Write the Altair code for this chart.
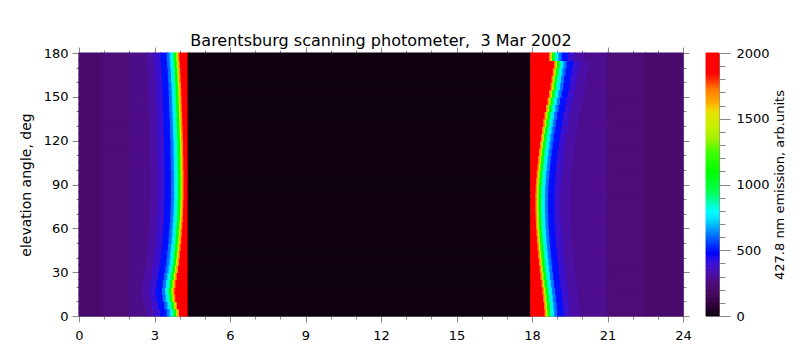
import altair as alt
import pandas as pd

# ---------------- data ----------------
# elevation rows (lower edge, deg); each row is 5 deg tall
row_lo = list(range(0, 180, 5))
row_step = 5

# hour where the dawn red (saturated) zone begins, per row
dawn_edge = [4.00, 3.92, 3.85, 3.82, 3.86, 3.91, 3.96, 4.00, 4.03, 4.06,
             4.09, 4.11, 4.13, 4.15, 4.16, 4.17, 4.18, 4.18, 4.18, 4.18,
             4.17, 4.17, 4.16, 4.16, 4.15, 4.14, 4.13, 4.12, 4.11, 4.10,
             4.09, 4.08, 4.06, 4.05, 4.03, 4.01]
# hour where the dusk red (saturated) zone ends, per row
dusk_edge = [18.52, 18.50, 18.47, 18.44, 18.40, 18.36, 18.33, 18.30, 18.27, 18.24,
             18.22, 18.20, 18.18, 18.17, 18.16, 18.16, 18.16, 18.17, 18.19, 18.21,
             18.24, 18.27, 18.30, 18.34, 18.38, 18.42, 18.47, 18.52, 18.58, 18.64,
             18.70, 18.76, 18.80, 18.85, 18.90, 18.70]

night_start = 4.34   # start of the blanked (no data) daytime block
night_end = 17.95

# dawn background (purple) levels
dawn_bg_breaks = [0.0, 0.9, 2.0]
dawn_bg_vals = [210, 245, 275]
# dawn gradient: offsets (h) relative to dawn edge, and band values
dawn_offsets = [-1.30, -1.00, -0.75, -0.50, -0.38, -0.30, -0.22, -0.12, -0.06, 0.0]
dawn_vals = [320, 390, 500, 620, 760, 850, 1100, 1450, 1700]
# dusk gradient: offsets (h) relative to dusk edge, and band values
dusk_offsets = [0.0, 0.06, 0.12, 0.22, 0.30, 0.38, 0.50, 0.75, 1.00, 1.40]
dusk_vals = [1700, 1450, 1100, 850, 760, 620, 500, 390, 320]
# dusk background (purple) levels
dusk_bg_breaks = [21.0, 22.5, 24.0]
dusk_bg_vals = [285, 245, 215]

sat_val = 2000
blank_val = 0

# colour table (value stops and colours)
cb_stops = [0, 80, 160, 250, 350, 420, 480, 560, 650, 740, 800, 880, 950,
            1100, 1250, 1350, 1450, 1560, 1620, 1720, 1800, 1850, 2000]
cb_colors = ["#0f000f", "#2d0038", "#420a5a", "#4e0c78", "#4a10b8", "#3010e0",
             "#0000ff", "#0040ff", "#0090ff", "#00e0ff", "#00ffff", "#00ffa0",
             "#00ff50", "#00ff00", "#40ff00", "#a0f000", "#c8f000", "#e8e000",
             "#ffb000", "#ff8000", "#ff3000", "#ff0000", "#ff0000"]
cb_levels = list(range(0, 2000, 10))

x_major = list(range(0, 25, 3))
x_minor = list(range(0, 25, 1))
y_major = list(range(0, 181, 30))
y_minor = list(range(0, 181, 10))
cb_major = [0, 500, 1000, 1500, 2000]
cb_minor = list(range(0, 2001, 100))

# ---------------- build the band table ----------------
rows = []
for lo, de, ue in zip(row_lo, dawn_edge, dusk_edge):
    hi = lo + row_step
    segs = []
    b = dawn_bg_breaks + [de + dawn_offsets[0]]
    for i, v in enumerate(dawn_bg_vals):
        segs.append((b[i], b[i + 1], v))
    for i, v in enumerate(dawn_vals):
        segs.append((de + dawn_offsets[i], de + dawn_offsets[i + 1], v))
    segs.append((de, night_start, sat_val))
    segs.append((night_start, night_end, blank_val))
    segs.append((night_end, ue, sat_val))
    for i, v in enumerate(dusk_vals):
        segs.append((ue + dusk_offsets[i], ue + dusk_offsets[i + 1], v))
    b = [ue + dusk_offsets[-1]] + dusk_bg_breaks
    for i, v in enumerate(dusk_bg_vals):
        segs.append((b[i], b[i + 1], v))
    for a, c, v in segs:
        rows.append({"x0": a, "x1": c, "y0": lo, "y1": hi, "v": v})
df = pd.DataFrame(rows)

cb_df = pd.DataFrame({"c0": 0.0, "c1": 1.0, "lo": cb_levels,
                      "hi": [l + 10 for l in cb_levels],
                      "v": [l + 5 for l in cb_levels]})

FONT = "DejaVu Sans"
cscale = alt.Scale(domain=cb_stops, range=cb_colors, interpolate="rgb", clamp=True)
xs = alt.Scale(domain=[0, 24], nice=False, zero=False)
ys = alt.Scale(domain=[0, 180], nice=False, zero=False)

heat = alt.Chart(df).mark_rect(strokeWidth=1.2).encode(
    x=alt.X("x0:Q", scale=xs, axis=alt.Axis(orient="bottom", values=x_major, title=None,
                                             tickSize=6, labelPadding=7, labelFontSize=13,
                                             labelFont=FONT, labelFlush=False)),
    x2="x1:Q",
    y=alt.Y("y0:Q", scale=ys, axis=alt.Axis(orient="left", values=y_major,
                                             title="elevation angle, deg", titleFontSize=14,
                                             titleFont=FONT, titleFontWeight="normal",
                                             titlePadding=10, tickSize=7, labelPadding=4,
                                             labelFontSize=13, labelFont=FONT, labelFlush=False)),
    y2="y1:Q",
    color=alt.Color("v:Q", scale=cscale, legend=None),
    stroke=alt.Stroke("v:Q", scale=cscale, legend=None),
)

dummy = pd.DataFrame({"x0": [0.0], "y0": [0.0]})


def axis_layer(xo, yo, xv, yv, size):
    return alt.Chart(dummy).mark_point(opacity=0).encode(
        x=alt.X("x0:Q", scale=xs, axis=alt.Axis(orient=xo, values=xv, labels=False,
                                                 title=None, tickSize=size)),
        y=alt.Y("y0:Q", scale=ys, axis=alt.Axis(orient=yo, values=yv, labels=False,
                                                 title=None, tickSize=size)),
    )


main = alt.layer(
    heat,
    axis_layer("top", "right", x_major, y_major, 6),
    axis_layer("bottom", "left", x_minor, y_minor, 3),
    axis_layer("top", "right", x_minor, y_minor, 3),
).resolve_axis(x="independent", y="independent").properties(
    width=604, height=263,
    title=alt.TitleParams("Barentsburg scanning photometer,\u00a0 3 Mar 2002", fontSize=16,
                          font=FONT, fontWeight="normal", anchor="middle", frame="group",
                          offset=-2, color="black"),
)

cb_y = alt.Scale(domain=[0, 2000], nice=False, zero=False)
cbar_rect = alt.Chart(cb_df).mark_rect(strokeWidth=1.0).encode(
    x=alt.X("c0:Q", scale=alt.Scale(domain=[0, 1], nice=False), axis=None),
    x2="c1:Q",
    y=alt.Y("lo:Q", scale=cb_y, axis=alt.Axis(orient="right", values=cb_major, format="d",
                                               title="427.8 nm emission, arb.units",
                                               titleAngle=270, titleFontSize=13, titleFont=FONT,
                                               titleFontWeight="normal", titlePadding=17,
                                               tickSize=11, labelPadding=6, labelFontSize=13,
                                               labelFont=FONT, labelFlush=False)),
    y2="hi:Q",
    color=alt.Color("v:Q", scale=cscale, legend=None),
    stroke=alt.Stroke("v:Q", scale=cscale, legend=None),
)
cbar_minor = alt.Chart(pd.DataFrame({"lo": [0.0], "c0": [0.0]})).mark_point(opacity=0).encode(
    x=alt.X("c0:Q", scale=alt.Scale(domain=[0, 1], nice=False), axis=None),
    y=alt.Y("lo:Q", scale=cb_y, axis=alt.Axis(orient="right", values=cb_minor, labels=False,
                                               title=None, tickSize=6)),
)
cbar = alt.layer(cbar_rect, cbar_minor).resolve_axis(y="independent").properties(
    width=13, height=263)

chart = alt.hconcat(main, cbar, spacing=10).properties(
    padding={"left": 18, "top": 32, "right": 5, "bottom": 5}
).configure_axis(
    grid=False, domainColor="black", tickColor="black", labelColor="black",
    titleColor="black", domainWidth=1, tickWidth=1,
).configure_view(stroke=None).configure(background="white")

chart.save("out.html", embed_options={"renderer": "svg", "actions": False})
